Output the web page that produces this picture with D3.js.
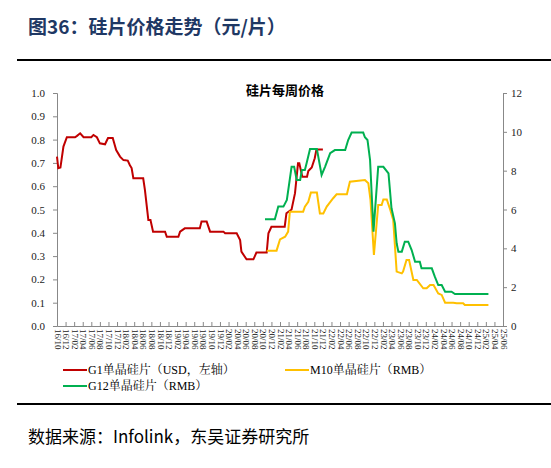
<!DOCTYPE html>
<html><head><meta charset="utf-8">
<script src="https://cdn.jsdelivr.net/npm/d3@7"></script>
<style>body{margin:0;background:#fff}</style>
</head><body>
<svg id="chart" width="551" height="468"></svg>
<script>
// x values: months since 2016-10
const g1 = [[0,.727],[.3,.677],[.8,.68],[1.5,.77],[2.3,.81],[4.2,.81],[4.6,.815],[5.4,.827],[6.2,.81],[8,.81],[8.5,.82],[9.3,.81],[10,.784],[11.2,.78],[11.9,.807],[13,.807],[13.8,.755],[14.7,.727],[15.5,.712],[16.5,.71],[17,.69],[17.4,.678],[17.8,.634],[20.1,.634],[20.5,.584],[21.3,.455],[21.8,.455],[22.4,.405],[25.2,.405],[25.6,.383],[28.3,.383],[28.7,.405],[29.8,.419],[33.3,.419],[33.7,.448],[34.9,.448],[35.7,.405],[38.8,.405],[39.2,.398],[41.9,.398],[42.7,.369],[43,.319],[44.2,.286],[45.8,.286],[46.5,.315],[48.9,.315],[49.3,.398],[50,.426],[53.1,.426],[53.5,.484],[54.7,.5],[55.5,.57],[56.2,.698],[56.5,.698],[57.2,.641],[58.3,.641],[58.6,.665],[59.4,.68],[60.1,.72],[60.5,.758],[62,.758]];
const g12 = [[48.5,5.5],[50.8,5.5],[51.6,6.15],[52.8,6.15],[53.6,6.49],[54.7,8.2],[55.3,8.2],[55.9,7.52],[56.7,7.52],[57.1,8.03],[57.8,8.03],[58.2,8.38],[59.0,9.12],[60.6,9.12],[61.7,7.78],[62.5,8.2],[63.7,8.9],[64.8,9.06],[67.2,9.06],[67.9,9.58],[68.7,9.96],[71.4,9.96],[71.8,9.72],[72.4,9.58],[73.0,8.55],[73.8,4.86],[74.9,8.2],[76.1,8.2],[77.3,7.86],[78.0,6.06],[78.8,5.29],[79.2,4.26],[79.6,3.83],[80.4,3.83],[81.1,4.34],[81.9,4.34],[82.7,3.91],[83.5,3.31],[84.6,3.31],[85.0,2.97],[87.4,2.97],[88.1,2.54],[88.9,2.11],[89.7,2.11],[90.5,1.77],[92.0,1.77],[92.8,1.65],[100.6,1.65]];
const m10 = [[48.9,3.88],[51.2,3.88],[52.0,4.46],[53.2,4.6],[53.9,4.86],[54.3,5.89],[57.4,5.89],[57.8,6.15],[58.6,6.4],[59.2,6.87],[60.6,6.87],[61.3,5.8],[62.1,5.8],[62.9,6.15],[64.4,6.58],[65.2,6.78],[67.6,6.78],[68.3,7.43],[71.8,7.52],[72.6,7.35],[73.1,6.49],[73.9,3.66],[74.9,6.23],[75.7,6.23],[76.1,6.52],[76.9,6.52],[77.6,6.06],[78.4,5.46],[79.2,2.8],[80.4,2.71],[80.7,2.8],[81.5,3.4],[82.1,3.4],[83.1,2.37],[83.9,2.37],[85.4,1.94],[86.2,1.94],[87.0,2.11],[87.8,2.11],[88.9,1.68],[89.7,1.6],[90.5,1.2],[92.4,1.2],[93.2,1.17],[94.7,1.17],[95.1,1.08],[100.6,1.08]];
const xLabels = ["16/10","16/12","17/02","17/04","17/06","17/08","17/10","17/12","18/02","18/04","18/06","18/08","18/10","18/12","19/02","19/04","19/06","19/08","19/10","19/12","20/02","20/04","20/06","20/08","20/10","20/12","21/02","21/04","21/06","21/08","21/10","21/12","22/02","22/04","22/06","22/08","22/10","22/12","23/02","23/04","23/06","23/08","23/10","23/12","24/02","24/04","24/06","24/08","24/10","24/12","25/02","25/04","25/06"];
const leftTicks = [0,0.1,0.2,0.3,0.4,0.5,0.6,0.7,0.8,0.9,1.0];
const rightTicks = [0,2,4,6,8,10,12];

const svg = d3.select("#chart");
const serif = "'Liberation Serif','Noto Serif CJK SC','Noto Sans CJK SC',serif";
const x = d3.scaleLinear().domain([0, 104]).range([57, 503]);
const yL = d3.scaleLinear().domain([0, 1]).range([326, 93]);
const yR = d3.scaleLinear().domain([0, 12]).range([326, 93]);

svg.append("text").attr("x", 28).attr("y", 34)
    .attr("font-family", "'Noto Sans CJK SC',sans-serif").attr("font-weight", "bold")
    .attr("font-size", 19).attr("fill", "#1f3864").text("图36：硅片价格走势（元/片）");
svg.append("line").attr("x1", 17).attr("x2", 551).attr("y1", 60).attr("y2", 60).attr("stroke", "#000").attr("stroke-width", 2);
svg.append("line").attr("x1", 17).attr("x2", 551).attr("y1", 404).attr("y2", 404).attr("stroke", "#000").attr("stroke-width", 2);
svg.append("text").attr("x", 28).attr("y", 443)
    .attr("font-family", "'Noto Sans CJK SC',sans-serif").attr("font-size", 17)
    .attr("fill", "#000").text("数据来源：Infolink，东吴证券研究所");

svg.append("text").attr("x", 285).attr("y", 95).attr("text-anchor", "middle")
    .attr("font-family", "'Noto Sans CJK SC',sans-serif").attr("font-weight", "bold")
    .attr("font-size", 13).text("硅片每周价格");

// axes
const axL = svg.append("g").attr("transform", "translate(57,0)")
    .call(d3.axisLeft(yL).tickValues(leftTicks).tickFormat(d3.format(".1f")).tickSize(4));
const axR = svg.append("g").attr("transform", "translate(503,0)")
    .call(d3.axisRight(yR).tickValues(rightTicks).tickSize(4));
const xTicks = xLabels.map((d, i) => i * 2);
const axB = svg.append("g").attr("transform", "translate(0,326)")
    .call(d3.axisBottom(x).tickValues(xTicks).tickFormat((d, i) => xLabels[i]).tickSize(-4).tickSizeOuter(0));
[axL, axR, axB].forEach(a => {
    a.selectAll("path,line").attr("stroke", "#888");
    a.selectAll("text").attr("font-family", serif).attr("fill", "#222");
});
axL.selectAll("text").attr("font-size", 11).attr("x", -12);
axR.selectAll("text").attr("font-size", 11).attr("x", 8);
axB.selectAll("text").attr("font-size", 9)
    .attr("transform", "rotate(90)").attr("text-anchor", "start")
    .attr("x", 3).attr("y", 0).attr("dy", "0.32em");

const line = y => d3.line().x(d => x(d[0])).y(d => y(d[1]));
svg.append("path").datum(g1).attr("d", line(yL)).attr("fill", "none").attr("stroke", "#c00000").attr("stroke-width", 2);
svg.append("path").datum(m10).attr("d", line(yR)).attr("fill", "none").attr("stroke", "#ffc000").attr("stroke-width", 2);
svg.append("path").datum(g12).attr("d", line(yR)).attr("fill", "none").attr("stroke", "#00b050").attr("stroke-width", 2);

// legend
const legend = [
    { name: "G1单晶硅片（USD，左轴）", color: "#c00000", lx: 63, ly: 370 },
    { name: "M10单晶硅片（RMB）", color: "#ffc000", lx: 285, ly: 370 },
    { name: "G12单晶硅片（RMB）", color: "#00b050", lx: 63, ly: 386 }
];
const lg = svg.selectAll("g.leg").data(legend).join("g").attr("class", "leg")
    .attr("transform", d => `translate(${d.lx},${d.ly})`);
lg.append("line").attr("x1", 0).attr("x2", 24).attr("stroke", d => d.color).attr("stroke-width", 2);
lg.append("text").attr("x", 25).attr("dy", "0.35em").attr("font-size", 12)
    .attr("font-family", serif).text(d => d.name);
</script>
</body></html>
